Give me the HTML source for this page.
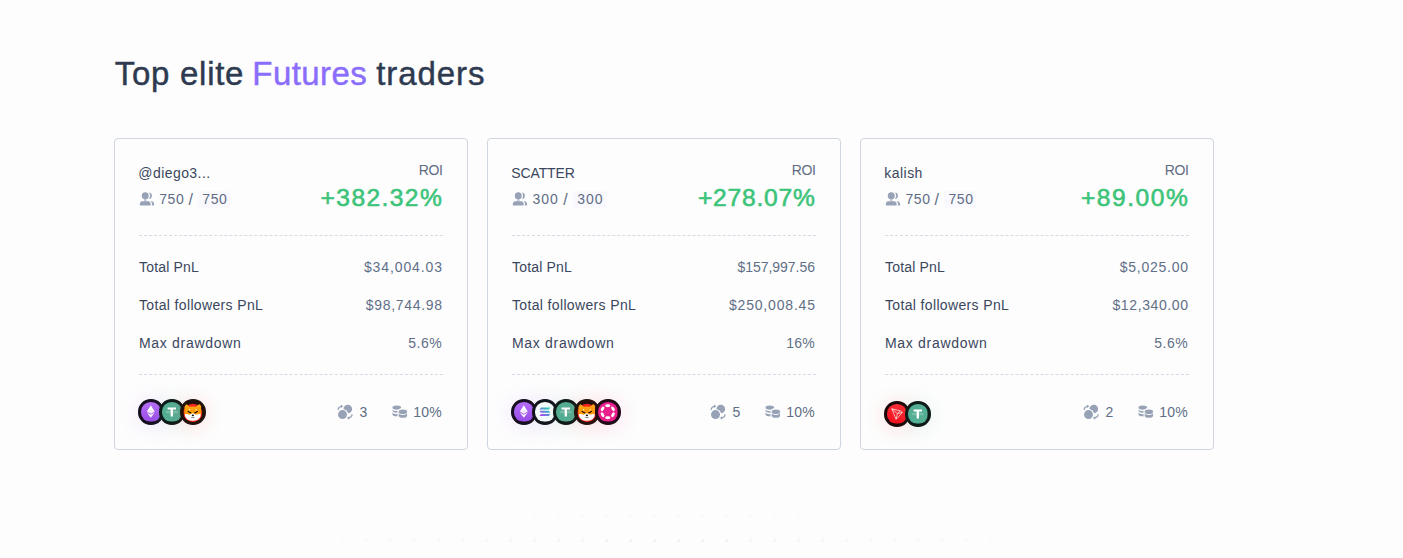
<!DOCTYPE html>
<html><head><meta charset="utf-8"><title>Top elite Futures traders</title>
<style>
*{box-sizing:border-box;margin:0;padding:0}
html,body{width:1403px;height:558px;overflow:hidden;background:#fdfdfd;font-family:"Liberation Sans",sans-serif;}
.abs{position:absolute;white-space:nowrap;line-height:1}
.ic{position:absolute;display:block}
.t{position:absolute;top:55.4px;font-size:33px;font-weight:400;color:#2e3a50;line-height:38px;white-space:nowrap;-webkit-text-stroke:.45px #2e3a50}
.t.p{color:#8b6dfb;-webkit-text-stroke-color:#8b6dfb}
.card{position:absolute;top:138px;width:354px;height:312px;border:1px solid #cfd6e0;border-radius:4px;background:#fdfdfd}
.name{left:23.3px;top:27px;font-size:14px;color:#3a475e}
.fol{top:53px;font-size:14px;color:#606d85}
.pill{position:absolute;top:51.5px;width:32.4px;height:17.8px;border-radius:4px;background:#f8f8fd}
.roi{top:24px;font-size:14px;color:#5f6c82}
.pct{top:47px;font-size:24.6px;color:#3dc47a;-webkit-text-stroke:.6px #3dc47a}
.hr{position:absolute;left:24px;right:24px;height:0;border-top:1px dashed #d5dae5}
.lab{left:24px;font-size:14px;color:#3a475e}
.val{font-size:14px;color:#616f87;margin-top:-.5px}
.bt{font-size:14px;color:#606d85;top:266px}
.coin{position:absolute;width:25.6px;height:25.6px;border-radius:50%;border:3px solid #111;overflow:hidden}
.coin svg{display:block;width:100%;height:100%}
.dots{position:absolute;left:210px;top:503px;width:912px;height:55px;background-image:radial-gradient(circle at 12.5px 13.5px,rgba(110,110,190,.07) 1.4px,transparent 2.2px);background-size:24px 24px;background-position:0 0;-webkit-mask-image:radial-gradient(ellipse 440px 60px at 50% 110%,#000 30%,transparent 100%);mask-image:radial-gradient(ellipse 440px 60px at 50% 110%,#000 30%,transparent 100%)}
</style></head><body>
<div class="t" style="left:114.70px;letter-spacing:0.73px">Top elite</div>
<div class="t p" style="left:252.30px;letter-spacing:0.44px">Futures</div>
<div class="t" style="left:376.30px;letter-spacing:0.9px">traders</div>
<div class="card" style="left:114px">
<div class="abs name" style="letter-spacing:0.43px">@diego3...</div>
<svg class="ic" style="left:24px;top:52px" width="17" height="16" viewBox="0 0 17 16"><g fill="#97a2b7"><circle cx="9.6" cy="4.7" r="3.25"/><path transform="translate(3.4 0)" d="M2.9 10.2H9.6C11 10.2 11.8 12.5 11.8 13.6C11.8 14.2 11.4 14.5 10.9 14.500H1.600C1.100 14.500 .7 14.200 .7 13.600C.7 12.500 1.500 10.200 2.900 10.200Z"/><circle cx="6.25" cy="4.7" r="4.85" fill="#fdfdfd"/><path d="M2.9 10.2H9.6C11 10.2 11.8 12.5 11.8 13.6C11.8 14.2 11.4 14.5 10.9 14.500H1.600C1.100 14.500 .7 14.200 .7 13.600C.7 12.500 1.500 10.200 2.900 10.200Z" stroke="#fdfdfd" stroke-width="2.6"/><circle cx="6.25" cy="4.7" r="3.5"/><path d="M2.9 10.2H9.6C11 10.2 11.8 12.5 11.8 13.6C11.8 14.2 11.4 14.5 10.9 14.500H1.600C1.100 14.500 .7 14.200 .7 13.600C.7 12.500 1.500 10.200 2.900 10.200Z"/><rect x="5" y="8" width="2.500" height="2.500" opacity=".55"/></g></svg>
<div class="pill" style="left:83px"></div>
<div class="abs fol" style="left:44.2px;letter-spacing:0.61px">750</div><div class="abs fol" style="left:73.5px;font-size:16px;top:53.2px">/</div><div class="abs fol" style="left:87.3px;letter-spacing:0.61px">750</div>
<div class="abs roi" style="right:24.46px;letter-spacing:-0.35px">ROI</div>
<div class="abs pct" style="right:23.84px;letter-spacing:1.39px">+382.32%</div>
<div class="hr" style="top:96px"></div>
<div class="abs lab" style="top:121px;letter-spacing:0.18px">Total PnL</div><div class="abs val" style="top:121px;right:24.12px;letter-spacing:0.89px">$34,004.03</div>
<div class="abs lab" style="top:159px;letter-spacing:0.35px">Total followers PnL</div><div class="abs val" style="top:159px;right:24.32px;letter-spacing:0.69px">$98,744.98</div>
<div class="abs lab" style="top:197px;letter-spacing:0.69px">Max drawdown</div><div class="abs val" style="top:197px;right:24.84px;letter-spacing:0.51px">5.6%</div>
<div class="hr" style="top:235px"></div>
<div class="coin" style="left:23.2px;top:260.2px;border-color:#160d20;background:#160d20;box-shadow:0 2px 20px 2px rgba(168,85,247,.11)"><svg viewBox="0 0 20 20" width="20" height="20"><defs><linearGradient id="g00e" x1="0" y1="0" x2="0" y2="1"><stop offset="0" stop-color="#b86ef9"/><stop offset="1" stop-color="#9a4ce6"/></linearGradient></defs><rect width="20" height="20" fill="url(#g00e)"/><path d="M10 3.4 14 9.8 10 12.1 6 9.8Z" fill="#fff"/><path d="M10 13.1 14 10.8 10 16.1 6 10.8Z" fill="#fff" opacity=".95"/><path d="M10 8 14 9.8 10 12.1 6 9.8Z" fill="#dcc0ff" opacity=".35"/></svg></div>
<div class="coin" style="left:44.2px;top:260.2px;border-color:#0e1b18;background:#0e1b18;box-shadow:0 2px 20px 2px rgba(83,174,148,.11)"><svg viewBox="0 0 20 20" width="20" height="20"><rect width="20" height="20" fill="#53ae94"/><path d="M5.700 5.700h8.600v1.900H11.200v7.100H8.800V7.600H5.700Z" fill="#fff"/><ellipse cx="10" cy="10.300" rx="5.700" ry=".85" fill="none" stroke="#fff" stroke-width=".55" opacity=".5"/></svg></div>
<div class="coin" style="left:65.2px;top:260.2px;border-color:#22120c;background:#22120c;box-shadow:0 2px 20px 2px rgba(244,39,28,.11)"><svg viewBox="0 -.5 20 20" width="20" height="20"><defs><linearGradient id="g02h" x1="0" y1="0" x2="0" y2="1"><stop offset="0" stop-color="#ffb324"/><stop offset=".6" stop-color="#ff9c08"/></linearGradient></defs><rect y="-1" width="20" height="22" fill="#22120c"/><circle cx="10" cy="10.700" r="9.500" fill="#f5261a"/><path d="M1.700 .2 6.900 4.400Q10 3.800 13.100 4.400L18.300 .2Q19.100 3.300 18.400 6.200Q19 9 18.400 12.300L10 14 1.600 12.300Q1 9 1.600 6.200Q.9 3.300 1.700 .2Z" fill="url(#g02h)"/><path d="M1.700 11.900Q4.500 11.500 7 12.500Q8 11 10 10.900Q12 11 13 12.500Q15.500 11.500 18.300 11.900Q18.200 15 15.800 17Q13.200 18.700 10 18.700Q6.800 18.700 4.200 17Q1.800 15 1.700 11.900Z" fill="#fff"/><path d="M5.300 9.100Q6.300 10.300 8 10.500" fill="none" stroke="#1a0e05" stroke-width="1.250" stroke-linecap="round"/><path d="M14.700 9.100Q13.700 10.300 12 10.500" fill="none" stroke="#1a0e05" stroke-width="1.250" stroke-linecap="round"/><ellipse cx="6.600" cy="7.500" rx=".85" ry=".6" fill="#fff6e0"/><ellipse cx="13.400" cy="7.500" rx=".85" ry=".6" fill="#fff6e0"/><ellipse cx="10.100" cy="13.100" rx="1.150" ry=".95" fill="#111"/><path d="M8.400 15.400h3.400" stroke="#4a5a50" stroke-width=".7"/></svg></div>
<svg class="ic" style="left:222px;top:265px" width="17" height="17" viewBox="0 0 17 17"><circle cx="10.8" cy="5" r="4.35" fill="#97a2b7"/><circle cx="5.5" cy="10.6" r="5.65" fill="#fdfdfd"/><circle cx="5.5" cy="10.6" r="4.5" fill="#97a2b7"/><path d="M1.2 5.500Q1.400 2.700 4.500 2.300" fill="none" stroke="#97a2b7" stroke-width="1.25" stroke-linecap="round"/><path d="M3.900 .5 6.300 2.300 4 3.900Z" fill="#97a2b7"/><path d="M15 10.700Q14.800 13.500 11.700 13.900" fill="none" stroke="#97a2b7" stroke-width="1.25" stroke-linecap="round"/><path d="M12.300 15.700 9.900 13.900 12.200 12.300Z" fill="#97a2b7"/></svg>
<div class="abs bt" style="left:244.5px">3</div>
<svg class="ic" style="left:277px;top:265px" width="17" height="17" viewBox="0 0 17 17"><g fill="#97a2b7"><ellipse cx="4.8" cy="3.55" rx="4.3" ry="2.15"/><path d="M0.50 4.90A4.3 2.15 0 0 0 9.10 4.90V6.50A4.3 2.15 0 0 1 0.50 6.50Z"/><path d="M0.50 8.10A4.3 2.15 0 0 0 9.10 8.10V10.20A4.3 2.15 0 0 1 0.50 10.20Z"/></g><g fill="#fdfdfd"><ellipse cx="10.9" cy="7.5" rx="5.3" ry="3.4"/><rect x="5.6" y="7.5" width="10.6" height="4.5"/><ellipse cx="10.9" cy="12" rx="5.3" ry="3"/></g><g fill="#97a2b7"><ellipse cx="10.9" cy="7.7" rx="4.2" ry="2.3"/><path d="M6.70 8.60A4.2 2.3 0 0 0 15.10 8.60V11.50A4.2 2.3 0 0 1 6.70 11.50Z"/></g></svg>
<div class="abs bt" style="right:25.04px;letter-spacing:0.21px">10%</div>
</div>
<div class="card" style="left:487px">
<div class="abs name" style="letter-spacing:-0.13px">SCATTER</div>
<svg class="ic" style="left:24px;top:52px" width="17" height="16" viewBox="0 0 17 16"><g fill="#97a2b7"><circle cx="9.6" cy="4.7" r="3.25"/><path transform="translate(3.4 0)" d="M2.9 10.2H9.6C11 10.2 11.8 12.5 11.8 13.6C11.8 14.2 11.4 14.5 10.9 14.500H1.600C1.100 14.500 .7 14.200 .7 13.600C.7 12.500 1.500 10.200 2.900 10.200Z"/><circle cx="6.25" cy="4.7" r="4.85" fill="#fdfdfd"/><path d="M2.9 10.2H9.6C11 10.2 11.8 12.5 11.8 13.6C11.8 14.2 11.4 14.5 10.9 14.500H1.600C1.100 14.500 .7 14.200 .7 13.600C.7 12.500 1.500 10.200 2.900 10.200Z" stroke="#fdfdfd" stroke-width="2.6"/><circle cx="6.25" cy="4.7" r="3.5"/><path d="M2.9 10.2H9.6C11 10.2 11.8 12.5 11.8 13.6C11.8 14.2 11.4 14.5 10.9 14.500H1.600C1.100 14.500 .7 14.200 .7 13.600C.7 12.500 1.500 10.200 2.900 10.200Z"/><rect x="5" y="8" width="2.500" height="2.500" opacity=".55"/></g></svg>
<div class="pill" style="left:84.9px;width:33.8px"></div>
<div class="abs fol" style="left:44.5px;letter-spacing:1.01px">300</div><div class="abs fol" style="left:75.2px;font-size:16px;top:53.2px">/</div><div class="abs fol" style="left:89.2px;letter-spacing:1.01px">300</div>
<div class="abs roi" style="right:24.46px;letter-spacing:-0.35px">ROI</div>
<div class="abs pct" style="right:24.46px;letter-spacing:0.77px">+278.07%</div>
<div class="hr" style="top:96px"></div>
<div class="abs lab" style="top:121px;letter-spacing:0.18px">Total PnL</div><div class="abs val" style="top:121px;right:25.04px;letter-spacing:-0.03px">$157,997.56</div>
<div class="abs lab" style="top:159px;letter-spacing:0.35px">Total followers PnL</div><div class="abs val" style="top:159px;right:24.19px;letter-spacing:0.82px">$250,008.45</div>
<div class="abs lab" style="top:197px;letter-spacing:0.69px">Max drawdown</div><div class="abs val" style="top:197px;right:25.14px;letter-spacing:0.21px">16%</div>
<div class="hr" style="top:235px"></div>
<div class="coin" style="left:23.2px;top:260.2px;border-color:#160d20;background:#160d20;box-shadow:0 2px 20px 2px rgba(168,85,247,.11)"><svg viewBox="0 0 20 20" width="20" height="20"><defs><linearGradient id="g10e" x1="0" y1="0" x2="0" y2="1"><stop offset="0" stop-color="#b86ef9"/><stop offset="1" stop-color="#9a4ce6"/></linearGradient></defs><rect width="20" height="20" fill="url(#g10e)"/><path d="M10 3.4 14 9.8 10 12.1 6 9.8Z" fill="#fff"/><path d="M10 13.1 14 10.8 10 16.1 6 10.8Z" fill="#fff" opacity=".95"/><path d="M10 8 14 9.8 10 12.1 6 9.8Z" fill="#dcc0ff" opacity=".35"/></svg></div>
<div class="coin" style="left:44.2px;top:260.2px;border-color:#13131c;background:#13131c;box-shadow:0 2px 20px 2px rgba(150,120,230,.11)"><svg viewBox="0 0 20 20" width="20" height="20"><defs><linearGradient id="g11s" x1="1" y1="0" x2="0" y2="1"><stop offset="0" stop-color="#12e8a8"/><stop offset=".5" stop-color="#5b8fd8"/><stop offset="1" stop-color="#c03cf5"/></linearGradient></defs><rect width="20" height="20" fill="#f7fbfb"/><path d="M6.1 5.6H15.7L14.1 7.6H4.5Z M4.5 8.9H14.1L15.7 10.900H6.100Z M6.100 12.200H15.700L14.100 14.200H4.500Z" fill="url(#g11s)"/></svg></div>
<div class="coin" style="left:65.2px;top:260.2px;border-color:#0e1b18;background:#0e1b18;box-shadow:0 2px 20px 2px rgba(83,174,148,.11)"><svg viewBox="0 0 20 20" width="20" height="20"><rect width="20" height="20" fill="#53ae94"/><path d="M5.700 5.700h8.600v1.900H11.200v7.100H8.800V7.600H5.700Z" fill="#fff"/><ellipse cx="10" cy="10.300" rx="5.700" ry=".85" fill="none" stroke="#fff" stroke-width=".55" opacity=".5"/></svg></div>
<div class="coin" style="left:86.2px;top:260.2px;border-color:#22120c;background:#22120c;box-shadow:0 2px 20px 2px rgba(244,39,28,.11)"><svg viewBox="0 -.5 20 20" width="20" height="20"><defs><linearGradient id="g13h" x1="0" y1="0" x2="0" y2="1"><stop offset="0" stop-color="#ffb324"/><stop offset=".6" stop-color="#ff9c08"/></linearGradient></defs><rect y="-1" width="20" height="22" fill="#22120c"/><circle cx="10" cy="10.700" r="9.500" fill="#f5261a"/><path d="M1.700 .2 6.900 4.400Q10 3.800 13.100 4.400L18.300 .2Q19.100 3.300 18.400 6.200Q19 9 18.400 12.300L10 14 1.600 12.300Q1 9 1.600 6.200Q.9 3.300 1.700 .2Z" fill="url(#g13h)"/><path d="M1.700 11.900Q4.500 11.500 7 12.500Q8 11 10 10.900Q12 11 13 12.500Q15.500 11.500 18.300 11.900Q18.200 15 15.800 17Q13.200 18.700 10 18.700Q6.800 18.700 4.200 17Q1.800 15 1.700 11.900Z" fill="#fff"/><path d="M5.300 9.100Q6.300 10.300 8 10.500" fill="none" stroke="#1a0e05" stroke-width="1.250" stroke-linecap="round"/><path d="M14.700 9.100Q13.700 10.300 12 10.500" fill="none" stroke="#1a0e05" stroke-width="1.250" stroke-linecap="round"/><ellipse cx="6.600" cy="7.500" rx=".85" ry=".6" fill="#fff6e0"/><ellipse cx="13.400" cy="7.500" rx=".85" ry=".6" fill="#fff6e0"/><ellipse cx="10.100" cy="13.100" rx="1.150" ry=".95" fill="#111"/><path d="M8.400 15.400h3.400" stroke="#4a5a50" stroke-width=".7"/></svg></div>
<div class="coin" style="left:107.2px;top:260.2px;border-color:#210a18;background:#210a18;box-shadow:0 2px 20px 2px rgba(234,31,141,.11)"><svg viewBox="0 0 20 20" width="20" height="20"><rect width="20" height="20" fill="#ea1f8d"/><g fill="#fff"><ellipse cx="10" cy="3.9" rx="2.65" ry="1.5"/><ellipse cx="10" cy="16.1" rx="2.65" ry="1.5"/><ellipse cx="4.7" cy="6.95" rx="2.65" ry="1.5" transform="rotate(-60 4.7 6.95)"/><ellipse cx="15.3" cy="6.95" rx="2.65" ry="1.5" transform="rotate(60 15.3 6.95)"/><ellipse cx="4.7" cy="13.05" rx="2.65" ry="1.5" transform="rotate(60 4.7 13.05)"/><ellipse cx="15.3" cy="13.05" rx="2.65" ry="1.5" transform="rotate(-60 15.3 13.05)"/></g></svg></div>
<svg class="ic" style="left:222px;top:265px" width="17" height="17" viewBox="0 0 17 17"><circle cx="10.8" cy="5" r="4.35" fill="#97a2b7"/><circle cx="5.5" cy="10.6" r="5.65" fill="#fdfdfd"/><circle cx="5.5" cy="10.6" r="4.5" fill="#97a2b7"/><path d="M1.2 5.500Q1.400 2.700 4.500 2.300" fill="none" stroke="#97a2b7" stroke-width="1.25" stroke-linecap="round"/><path d="M3.900 .5 6.300 2.300 4 3.900Z" fill="#97a2b7"/><path d="M15 10.700Q14.800 13.500 11.700 13.900" fill="none" stroke="#97a2b7" stroke-width="1.25" stroke-linecap="round"/><path d="M12.300 15.700 9.900 13.900 12.200 12.300Z" fill="#97a2b7"/></svg>
<div class="abs bt" style="left:244.5px">5</div>
<svg class="ic" style="left:277px;top:265px" width="17" height="17" viewBox="0 0 17 17"><g fill="#97a2b7"><ellipse cx="4.8" cy="3.55" rx="4.3" ry="2.15"/><path d="M0.50 4.90A4.3 2.15 0 0 0 9.10 4.90V6.50A4.3 2.15 0 0 1 0.50 6.50Z"/><path d="M0.50 8.10A4.3 2.15 0 0 0 9.10 8.10V10.20A4.3 2.15 0 0 1 0.50 10.20Z"/></g><g fill="#fdfdfd"><ellipse cx="10.9" cy="7.5" rx="5.3" ry="3.4"/><rect x="5.6" y="7.5" width="10.6" height="4.5"/><ellipse cx="10.9" cy="12" rx="5.3" ry="3"/></g><g fill="#97a2b7"><ellipse cx="10.9" cy="7.7" rx="4.2" ry="2.3"/><path d="M6.70 8.60A4.2 2.3 0 0 0 15.10 8.60V11.50A4.2 2.3 0 0 1 6.70 11.50Z"/></g></svg>
<div class="abs bt" style="right:25.04px;letter-spacing:0.21px">10%</div>
</div>
<div class="card" style="left:860px">
<div class="abs name" style="letter-spacing:0.46px">kalish</div>
<svg class="ic" style="left:24px;top:52px" width="17" height="16" viewBox="0 0 17 16"><g fill="#97a2b7"><circle cx="9.6" cy="4.7" r="3.25"/><path transform="translate(3.4 0)" d="M2.9 10.2H9.6C11 10.2 11.8 12.5 11.8 13.6C11.8 14.2 11.4 14.5 10.9 14.500H1.600C1.100 14.500 .7 14.200 .7 13.600C.7 12.500 1.500 10.200 2.900 10.200Z"/><circle cx="6.25" cy="4.7" r="4.85" fill="#fdfdfd"/><path d="M2.9 10.2H9.6C11 10.2 11.8 12.5 11.8 13.6C11.8 14.2 11.4 14.5 10.9 14.500H1.600C1.100 14.500 .7 14.200 .7 13.600C.7 12.500 1.500 10.200 2.900 10.200Z" stroke="#fdfdfd" stroke-width="2.6"/><circle cx="6.25" cy="4.7" r="3.5"/><path d="M2.9 10.2H9.6C11 10.2 11.8 12.5 11.8 13.6C11.8 14.2 11.4 14.5 10.9 14.500H1.600C1.100 14.500 .7 14.200 .7 13.600C.7 12.500 1.500 10.200 2.900 10.200Z"/><rect x="5" y="8" width="2.500" height="2.500" opacity=".55"/></g></svg>
<div class="pill" style="left:83.1px"></div>
<div class="abs fol" style="left:44.4px;letter-spacing:0.61px">750</div><div class="abs fol" style="left:73.6px;font-size:16px;top:53.2px">/</div><div class="abs fol" style="left:87.4px;letter-spacing:0.61px">750</div>
<div class="abs roi" style="right:24.46px;letter-spacing:-0.35px">ROI</div>
<div class="abs pct" style="right:23.71px;letter-spacing:1.52px">+89.00%</div>
<div class="hr" style="top:96px"></div>
<div class="abs lab" style="top:121px;letter-spacing:0.18px">Total PnL</div><div class="abs val" style="top:121px;right:24.27px;letter-spacing:0.74px">$5,025.00</div>
<div class="abs lab" style="top:159px;letter-spacing:0.35px">Total followers PnL</div><div class="abs val" style="top:159px;right:24.40px;letter-spacing:0.61px">$12,340.00</div>
<div class="abs lab" style="top:197px;letter-spacing:0.69px">Max drawdown</div><div class="abs val" style="top:197px;right:24.84px;letter-spacing:0.51px">5.6%</div>
<div class="hr" style="top:235px"></div>
<div class="coin" style="left:23.2px;top:262.2px;border-color:#1d0809;background:#1d0809;box-shadow:0 2px 20px 2px rgba(255,30,40,.11)"><svg viewBox="0 0 20 20" width="20" height="20"><defs><linearGradient id="g20t" x1="0" y1="0" x2="0" y2="1"><stop offset="0" stop-color="#ff2d35"/><stop offset="1" stop-color="#f40f1c"/></linearGradient></defs><rect width="20" height="20" fill="url(#g20t)"/><path d="M4.9 4.9 13.6 7 15.6 8.6 9.3 15.6Z M4.9 4.9 10.6 9.8 9.3 15.6 M10.6 9.8 15.6 8.6 M10.6 9.8 13.6 7" fill="none" stroke="#fff" stroke-width=".75" stroke-linejoin="round" opacity=".92"/></svg></div>
<div class="coin" style="left:44.2px;top:262.2px;border-color:#0e1b18;background:#0e1b18;box-shadow:0 2px 20px 2px rgba(83,174,148,.11)"><svg viewBox="0 0 20 20" width="20" height="20"><rect width="20" height="20" fill="#53ae94"/><path d="M5.700 5.700h8.600v1.900H11.200v7.100H8.800V7.600H5.700Z" fill="#fff"/><ellipse cx="10" cy="10.300" rx="5.700" ry=".85" fill="none" stroke="#fff" stroke-width=".55" opacity=".5"/></svg></div>
<svg class="ic" style="left:222px;top:265px" width="17" height="17" viewBox="0 0 17 17"><circle cx="10.8" cy="5" r="4.35" fill="#97a2b7"/><circle cx="5.5" cy="10.6" r="5.65" fill="#fdfdfd"/><circle cx="5.5" cy="10.6" r="4.5" fill="#97a2b7"/><path d="M1.2 5.500Q1.400 2.700 4.500 2.300" fill="none" stroke="#97a2b7" stroke-width="1.25" stroke-linecap="round"/><path d="M3.900 .5 6.300 2.300 4 3.900Z" fill="#97a2b7"/><path d="M15 10.700Q14.800 13.500 11.700 13.900" fill="none" stroke="#97a2b7" stroke-width="1.25" stroke-linecap="round"/><path d="M12.300 15.700 9.900 13.900 12.200 12.300Z" fill="#97a2b7"/></svg>
<div class="abs bt" style="left:244.5px">2</div>
<svg class="ic" style="left:277px;top:265px" width="17" height="17" viewBox="0 0 17 17"><g fill="#97a2b7"><ellipse cx="4.8" cy="3.55" rx="4.3" ry="2.15"/><path d="M0.50 4.90A4.3 2.15 0 0 0 9.10 4.90V6.50A4.3 2.15 0 0 1 0.50 6.50Z"/><path d="M0.50 8.10A4.3 2.15 0 0 0 9.10 8.10V10.20A4.3 2.15 0 0 1 0.50 10.20Z"/></g><g fill="#fdfdfd"><ellipse cx="10.9" cy="7.5" rx="5.3" ry="3.4"/><rect x="5.6" y="7.5" width="10.6" height="4.5"/><ellipse cx="10.9" cy="12" rx="5.3" ry="3"/></g><g fill="#97a2b7"><ellipse cx="10.9" cy="7.7" rx="4.2" ry="2.3"/><path d="M6.70 8.60A4.2 2.3 0 0 0 15.10 8.60V11.50A4.2 2.3 0 0 1 6.70 11.50Z"/></g></svg>
<div class="abs bt" style="right:25.04px;letter-spacing:0.21px">10%</div>
</div>
<div class="dots"></div>
</body></html>
